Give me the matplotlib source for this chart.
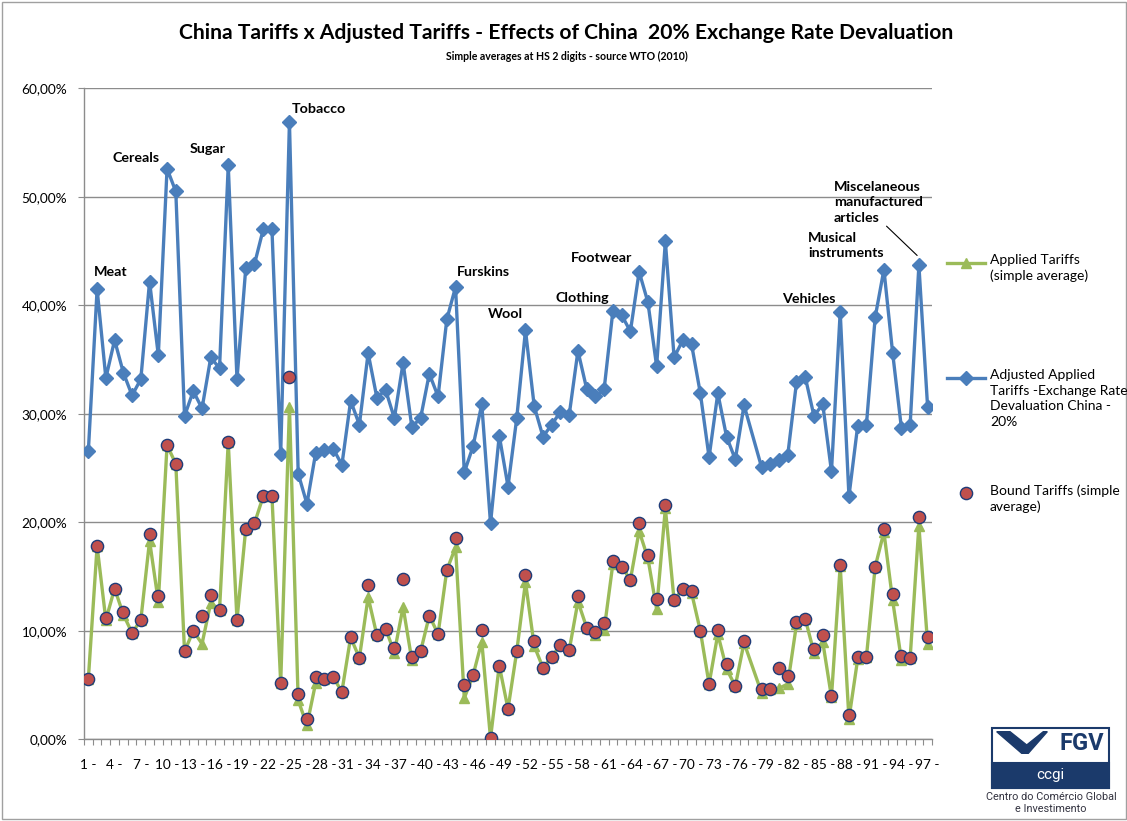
import numpy as np
import matplotlib
matplotlib.use("Agg")
import matplotlib.pyplot as plt
from matplotlib.lines import Line2D
from matplotlib.patches import Rectangle, Polygon
from matplotlib.ticker import FuncFormatter

plt.rcParams['font.family'] = ['Lato', 'DejaVu Sans']

nan = np.nan

# HS chapters 1..97 (chapter 77 is reserved, no data)
hs = np.arange(1, 98)

adjusted = np.array([
    26.6, 41.5, 33.3, 36.8, 33.8, 31.7, 33.2, 42.2, 35.4, 52.6,
    50.5, 29.8, 32.1, 30.5, 35.2, 34.2, 52.9, 33.2, 43.4, 43.8,
    47.0, 47.0, 26.3, 56.9, 24.5, 21.7, 26.4, 26.7, 26.8, 25.3,
    31.2, 29.0, 35.6, 31.5, 32.2, 29.6, 34.7, 28.8, 29.6, 33.7,
    31.6, 38.7, 41.7, 24.6, 27.0, 30.9, 19.9, 28.0, 23.3, 29.6,
    37.7, 30.7, 27.9, 29.0, 30.2, 29.9, 35.8, 32.3, 31.6, 32.3,
    39.5, 39.1, 37.6, 43.1, 40.3, 34.4, 45.9, 35.2, 36.8, 36.4,
    31.9, 26.0, 31.9, 27.9, 25.8, 30.8, nan, 25.1, 25.4, 25.7,
    26.2, 32.9, 33.4, 29.8, 30.9, 24.7, 39.4, 22.4, 28.9, 29.0,
    38.9, 43.3, 35.6, 28.7, 29.0, 43.7, 30.6])

applied = np.array([
    5.6, 17.8, 11.0, 13.9, 11.5, 9.8, 11.0, 18.3, 12.7, 27.1,
    25.4, 8.1, 10.0, 8.8, 12.6, 11.9, 27.4, 11.0, 19.4, 19.9,
    22.4, 22.4, 5.2, 30.6, 3.6, 1.3, 5.2, 5.6, 5.7, 4.4,
    9.4, 7.5, 13.1, 9.6, 10.2, 8.0, 12.2, 7.3, 8.1, 11.4,
    9.7, 15.6, 17.7, 3.8, 5.9, 9.0, 0.1, 6.8, 2.8, 8.1,
    14.5, 8.6, 6.6, 7.6, 8.7, 8.2, 12.7, 10.3, 9.6, 10.1,
    16.2, 15.9, 14.7, 19.2, 16.7, 12.0, 21.3, 12.8, 13.9, 13.5,
    10.0, 5.1, 9.7, 6.5, 4.9, 8.9, nan, 4.3, 4.6, 4.7,
    5.1, 10.6, 11.1, 8.0, 9.0, 3.9, 16.0, 1.9, 7.4, 7.6,
    15.9, 19.1, 12.8, 7.3, 7.5, 19.7, 8.8])

bound = np.array([
    5.6, 17.8, 11.2, 13.9, 11.7, 9.8, 11.0, 18.9, 13.2, 27.1,
    25.4, 8.1, 10.0, 11.4, 13.3, 11.9, 27.4, 11.0, 19.4, 19.9,
    22.4, 22.4, 5.2, 33.4, 4.2, 1.9, 5.7, 5.6, 5.7, 4.4,
    9.4, 7.5, 14.2, 9.6, 10.2, 8.4, 14.8, 7.6, 8.1, 11.4,
    9.7, 15.6, 18.6, 5.0, 5.9, 10.1, 0.15, 6.8, 2.8, 8.1,
    15.1, 9.1, 6.6, 7.6, 8.7, 8.2, 13.2, 10.3, 9.9, 10.7,
    16.4, 15.9, 14.7, 19.9, 17.0, 12.9, 21.6, 12.8, 13.9, 13.7,
    10.0, 5.1, 10.1, 6.9, 4.9, 9.1, nan, 4.6, 4.6, 6.6,
    5.8, 10.8, 11.1, 8.3, 9.6, 4.0, 16.1, 2.2, 7.6, 7.6,
    15.9, 19.4, 13.4, 7.7, 7.5, 20.5, 9.4])

# chapter labels drawn on the chart (text, hs position, value)
notes = [("Meat", 1.65, 43.1), ("Cereals", 3.8, 53.6), ("Sugar", 12.6, 54.4),
         ("Tobacco", 24.3, 58.1), ("Furskins", 43.2, 43.1), ("Wool", 46.7, 39.2),
         ("Clothing", 54.4, 40.7), ("Footwear", 56.2, 44.4), ("Vehicles", 80.3, 40.6),
         ("Musical\ninstruments", 83.3, 45.5),
         ("Miscelaneous\nmanufactured\narticles", 86.3, 49.5)]

BLUE = '#4A7EBB'
GREEN = '#9BBB59'
RED = '#C0504D'
EDGE = '#1F3C78'
GRID = '#8C8C8C'

W, H = 1127, 821
fig = plt.figure(figsize=(W / 100, H / 100), dpi=100)
ax = fig.add_axes([84 / W, 1 - 739.3 / H, (932 - 84) / W, (739.3 - 88.4) / H])


def fx(x):
    return x / W


def fy(y):
    return 1 - y / H


ok = ~np.isnan(adjusted)
ax.plot(hs[ok], adjusted[ok], color=BLUE, lw=2.4, marker='D', ms=6.8,
        mfc=BLUE, mec=BLUE, zorder=3)
ax.plot(hs[ok], applied[ok], color=GREEN, lw=2.4, marker='^', ms=7.5,
        mfc=GREEN, mec=GREEN, zorder=4)
ax.plot(hs[ok], bound[ok], ls='none', marker='o', ms=8.8,
        mfc=RED, mec=EDGE, mew=1.0, zorder=5)

ax.set_xlim(0.5, 97.5)
ax.set_ylim(0, 60)
ax.set_yticks(np.arange(0, 61, 10))
ax.yaxis.set_major_formatter(FuncFormatter(lambda v, p: f"{v:.2f}%".replace('.', ',')))
ax.yaxis.grid(True, color=GRID, lw=1.0)
ax.set_axisbelow(True)

ax.set_xticks(np.arange(0.5, 98, 1))
ax.set_xticklabels([])
ax.set_xticks(np.arange(1, 98, 3), minor=True)
ax.set_xticklabels([f"{k} -" for k in range(1, 98, 3)], minor=True)
ax.tick_params(axis='x', which='major', length=4, color=GRID)
ax.tick_params(axis='x', which='minor', length=0, pad=14, labelsize=9.8)
ax.tick_params(axis='y', length=4, color=GRID, pad=8, labelsize=9.8)

for s in ['top', 'right']:
    ax.spines[s].set_visible(False)
for s in ['left', 'bottom']:
    ax.spines[s].set_color(GRID)
    ax.spines[s].set_linewidth(1.0)

for txt, x, y in notes:
    ax.text(x, y, txt, fontsize=10.3, fontweight='bold', ha='left', va='center',
            linespacing=1.35)
ax.annotate('', xy=(95.8, 44.6), xytext=(92.3, 47.3),
            arrowprops=dict(arrowstyle='-', color='black', lw=0.8,
                            shrinkA=0, shrinkB=0))

# titles
fig.text(fx(566.5), fy(33), "China Tariffs x Adjusted Tariffs - Effects of China  20% Exchange Rate Devaluation",
         ha='center', va='center', fontsize=15.2, fontweight='bold')
fig.text(fx(567), fy(56), "Simple averages at HS 2 digits - source WTO (2010)",
         ha='center', va='center', fontsize=7.6, fontweight='bold')

# legend, drawn by hand to keep the wide spacing
fig.add_artist(Line2D([fx(947), fx(985)], [fy(263), fy(263)], color=GREEN, lw=2.4))
fig.add_artist(Line2D([fx(966)], [fy(263)], marker='^', ms=7.5, color=GREEN))
fig.text(fx(990), fy(254), "Applied Tariffs\n(simple average)", fontsize=10,
         ha='left', va='top', linespacing=1.35)
fig.add_artist(Line2D([fx(947), fx(985)], [fy(378), fy(378)], color=BLUE, lw=2.4))
fig.add_artist(Line2D([fx(966)], [fy(378)], marker='D', ms=6.8, color=BLUE))
fig.text(fx(990), fy(369), "Adjusted Applied\nTariffs -Exchange Rate\nDevaluation China -\n20%",
         fontsize=10, ha='left', va='top', linespacing=1.35)
fig.add_artist(Line2D([fx(966)], [fy(493)], marker='o', ms=8.8, mfc=RED, mec=EDGE,
                      mew=1.0, ls='none'))
fig.text(fx(990), fy(484), "Bound Tariffs (simple\naverage)", fontsize=10,
         ha='left', va='top', linespacing=1.35)

# FGV logo
NAVY = '#1B3A6B'
fig.add_artist(Rectangle((fx(992), fy(788)), fx(117), 60 / H, transform=fig.transFigure,
                         facecolor='white', edgecolor=NAVY, lw=1.5))
fig.add_artist(Rectangle((fx(992), fy(788)), fx(117), 25 / H, transform=fig.transFigure,
                         facecolor=NAVY, edgecolor=NAVY, lw=1.5))
chev = [(996.7, 731.7), (1010, 731.7), (1026.7, 745), (1043.3, 731.7),
        (1047.3, 731.7), (1028.3, 753.3), (1021.7, 753.3)]
fig.add_artist(Polygon([(fx(a), fy(b)) for a, b in chev], closed=True,
                       transform=fig.transFigure, facecolor=NAVY, edgecolor=NAVY))
fig.text(fx(1082), fy(743), "FGV", ha='center', va='center', fontsize=17,
         fontweight='bold', color=NAVY, family='Roboto')
fig.text(fx(1050), fy(775), "ccgi", ha='center', va='center', fontsize=11,
         color='white', family='Roboto')
fig.text(fx(1051), fy(797), "Centro do Comércio Global", ha='center',
         va='center', fontsize=7.8, color='#333340', family='Roboto')
fig.text(fx(1051), fy(809), "e Investimento", ha='center',
         va='center', fontsize=7.8, color='#333340', family='Roboto')

# chart border
fig.add_artist(Rectangle((fx(2), fy(819)), fx(1124), 817 / H, transform=fig.transFigure,
                         fill=False, edgecolor='#A0A0A0', lw=1.0))

fig.savefig("out.png", dpi=100)
